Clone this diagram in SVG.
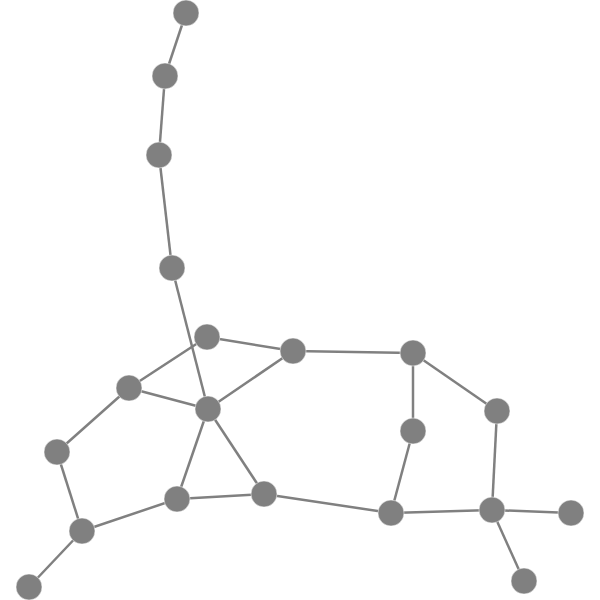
<svg xmlns="http://www.w3.org/2000/svg" width="600" height="600" viewBox="0 0 600 600">
<style>
.e line{stroke:#808080;stroke-width:2.5;}
.n circle{fill:#808080;stroke:#fff;stroke-width:0.5;}
</style>
<rect width="600" height="600" fill="#fff"/>
<g id="edges" class="e">
<line x1="186" y1="13" x2="165" y2="76"/>
<line x1="165" y1="76" x2="159" y2="155"/>
<line x1="159" y1="155" x2="172" y2="268"/>
<line x1="172" y1="268" x2="208" y2="409"/>
<line x1="207" y1="337" x2="293" y2="351"/>
<line x1="129" y1="388" x2="207" y2="337"/>
<line x1="129" y1="388" x2="208" y2="409"/>
<line x1="208" y1="409" x2="293" y2="351"/>
<line x1="293" y1="351" x2="413" y2="353"/>
<line x1="413" y1="353" x2="413" y2="431"/>
<line x1="413" y1="353" x2="497" y2="411"/>
<line x1="497" y1="411" x2="492" y2="510"/>
<line x1="413" y1="431" x2="391" y2="513"/>
<line x1="391" y1="513" x2="492" y2="510"/>
<line x1="492" y1="510" x2="571" y2="513"/>
<line x1="492" y1="510" x2="524" y2="581"/>
<line x1="208" y1="409" x2="177" y2="499"/>
<line x1="208" y1="409" x2="264" y2="494"/>
<line x1="264" y1="494" x2="391" y2="513"/>
<line x1="177" y1="499" x2="264" y2="494"/>
<line x1="177" y1="499" x2="82" y2="531"/>
<line x1="82" y1="531" x2="57" y2="452"/>
<line x1="57" y1="452" x2="129" y2="388"/>
<line x1="82" y1="531" x2="29" y2="587"/>
</g>
<g class="n">
<g id="n1"><circle cx="186" cy="13" r="13"/></g>
<g id="n2"><circle cx="165" cy="76" r="13"/></g>
<g id="n3"><circle cx="159" cy="155" r="13"/></g>
<g id="n4"><circle cx="172" cy="268" r="13"/></g>
<g id="n5"><circle cx="207" cy="337" r="13"/></g>
<g id="n6"><circle cx="293" cy="351" r="13"/></g>
<g id="n7"><circle cx="413" cy="353" r="13"/></g>
<g id="n8"><circle cx="129" cy="388" r="13"/></g>
<g id="n9"><circle cx="208" cy="409" r="13"/></g>
<g id="n10"><circle cx="497" cy="411" r="13"/></g>
<g id="n11"><circle cx="413" cy="431" r="13"/></g>
<g id="n12"><circle cx="57" cy="452" r="13"/></g>
<g id="n13"><circle cx="177" cy="499" r="13"/></g>
<g id="n14"><circle cx="264" cy="494" r="13"/></g>
<g id="n15"><circle cx="391" cy="513" r="13"/></g>
<g id="n16"><circle cx="492" cy="510" r="13"/></g>
<g id="n17"><circle cx="571" cy="513" r="13"/></g>
<g id="n18"><circle cx="82" cy="531" r="13"/></g>
<g id="n19"><circle cx="29" cy="587" r="13"/></g>
<g id="n20"><circle cx="524" cy="581" r="13"/></g>
</g>
</svg>
